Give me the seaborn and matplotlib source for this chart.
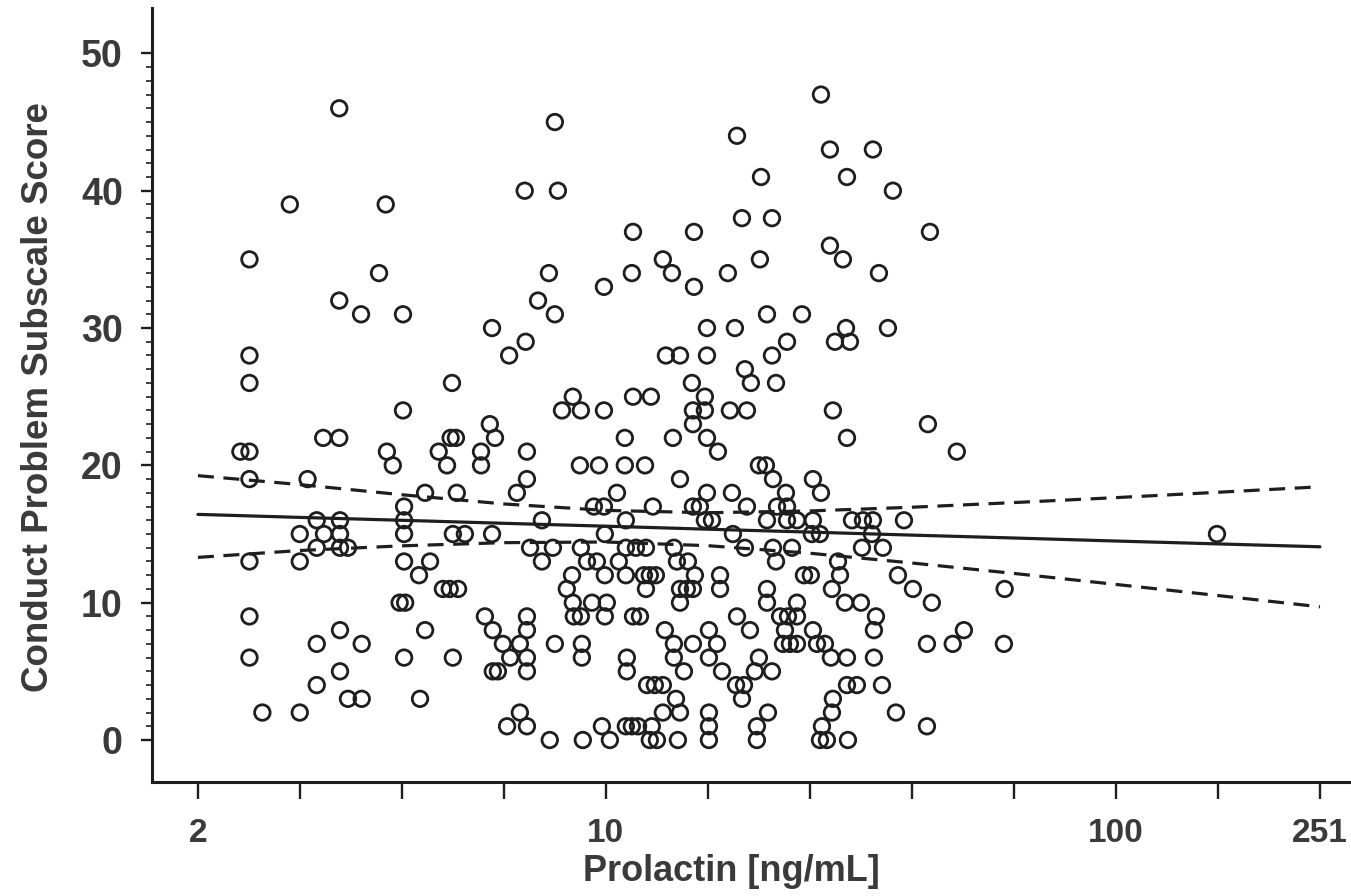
import matplotlib
matplotlib.use("Agg")
import matplotlib.pyplot as plt
from matplotlib.ticker import FixedLocator, NullLocator
import seaborn as sns

# Scatter data: prolactin (ng/mL) and conduct problem subscale score
prolactin = [
    7.76, 9.01, 10.18, 12.19, 12.59, 13.84, 15.92, 19.77, 26.28, 27.12, 29.82,
    6.40, 7.00, 9.82, 10.94, 11.24, 11.56, 12.30, 15.92, 19.77, 26.52, 42.60,
    2.12, 2.51, 6.78, 12.93, 13.97, 15.92, 20.78, 27.74, 37.03,
    3.12, 3.32, 4.32, 13.72, 18.48, 27.86,
    2.71, 12.04, 12.47, 12.93, 17.99, 18.65, 29.69, 31.05, 34.77,
    3.01, 6.00, 6.14, 7.00, 10.99, 14.22, 16.89, 19.59, 21.16,
    2.00, 4.02, 5.01, 6.49, 7.00, 8.97, 10.99, 13.59, 15.92, 19.95, 27.61, 29.69, 33.53,
    2.71, 3.32, 6.28, 6.78, 7.94, 8.97, 13.59, 14.81, 16.51, 22.24, 22.95, 23.69, 25.93, 26.88, 42.60, 47.86, 60.3,
    3.01, 4.42, 6.00, 7.00, 13.05, 15.92, 19.16, 22.44, 25.46, 33.53, 50.33,
    2.00, 5.79, 7.00, 8.65, 8.93, 9.95, 11.30, 11.66, 18.07, 21.95, 22.75, 23.69, 33.84,
    3.94, 4.04, 8.61, 9.39, 10.04, 13.97, 20.69, 23.69, 29.42, 31.62, 43.55,
    4.79, 4.94, 5.13, 8.38, 11.98, 13.97, 14.41, 14.81, 16.74, 20.69, 27.74, 39.99, 60.5,
    4.30, 8.58, 9.95, 10.94, 11.87, 12.19, 12.53, 14.94, 16.74, 24.45, 25.22, 28.77, 37.37,
    2.00, 2.51, 4.02, 4.52, 7.49, 9.18, 9.60, 10.60, 13.78, 14.48, 21.55, 28.51,
    2.71, 3.01, 3.12, 7.10, 7.87, 8.93, 10.94, 11.45, 11.98, 13.59, 18.73, 21.26, 23.16, 31.77, 34.92,
    2.51, 2.80, 3.01, 4.02, 5.01, 5.29, 5.98, 9.95, 17.74, 25.34, 26.28, 33.23, 157.8,
    2.71, 3.01, 4.02, 7.49, 10.94, 15.63, 16.14, 20.69, 22.65, 23.69, 25.46, 30.37, 31.91, 33.38, 38.40,
    4.02, 9.47, 9.91, 12.36, 14.81, 15.28, 18.90, 21.65, 22.65,
    4.42, 5.10, 6.69, 10.51, 15.78, 17.66, 22.54, 26.40,
    2.00, 2.60, 7.00, 13.97, 21.26, 25.46,
    3.82, 4.88, 5.69, 8.89, 9.69, 10.89, 11.93, 19.95, 20.59,
    1.92, 2.00, 3.72, 4.70, 5.69, 7.00, 16.58, 48.75,
    2.79, 3.00, 4.96, 5.08, 6.06, 10.89, 13.53, 15.78, 29.69,
    5.92, 14.81, 42.79,
    4.00, 8.20, 8.93, 9.91, 14.81, 15.63, 17.50, 18.90, 27.86,
    8.61, 11.30, 12.25, 15.63,
    2.00, 4.99, 14.74, 19.24, 21.55,
    18.73,
    2.00, 6.46, 13.11, 13.97, 15.78, 21.16,
    6.96, 22.65, 28.12, 30.09,
    5.98, 15.78, 17.90, 29.56, 35.72,
    3.31, 4.00, 7.94, 20.69, 24.23,
    3.00, 7.36,
    9.91, 14.88,
    3.59, 7.73, 11.24, 13.47, 17.34, 34.30,
    2.00, 12.93, 20.04, 29.15,
    27.49,
    11.30, 14.88, 43.18,
    18.48, 21.16,
    2.40, 3.70,
    6.93, 8.05, 36.53,
    20.14, 29.69,
    27.49, 33.38,
    18.07,
    7.94,
    3.00,
    26.40,
]
score = [
    0, 0, 0, 0, 0, 0, 0, 0, 0, 0, 0,
    1, 1, 1, 1, 1, 1, 1, 1, 1, 1, 1,
    2, 2, 2, 2, 2, 2, 2, 2, 2,
    3, 3, 3, 3, 3, 3,
    4, 4, 4, 4, 4, 4, 4, 4, 4,
    5, 5, 5, 5, 5, 5, 5, 5, 5,
    6, 6, 6, 6, 6, 6, 6, 6, 6, 6, 6, 6, 6,
    7, 7, 7, 7, 7, 7, 7, 7, 7, 7, 7, 7, 7, 7, 7, 7, 7,
    8, 8, 8, 8, 8, 8, 8, 8, 8, 8, 8,
    9, 9, 9, 9, 9, 9, 9, 9, 9, 9, 9, 9, 9,
    10, 10, 10, 10, 10, 10, 10, 10, 10, 10, 10,
    11, 11, 11, 11, 11, 11, 11, 11, 11, 11, 11, 11, 11,
    12, 12, 12, 12, 12, 12, 12, 12, 12, 12, 12, 12, 12,
    13, 13, 13, 13, 13, 13, 13, 13, 13, 13, 13, 13,
    14, 14, 14, 14, 14, 14, 14, 14, 14, 14, 14, 14, 14, 14, 14,
    15, 15, 15, 15, 15, 15, 15, 15, 15, 15, 15, 15, 15,
    16, 16, 16, 16, 16, 16, 16, 16, 16, 16, 16, 16, 16, 16, 16,
    17, 17, 17, 17, 17, 17, 17, 17, 17,
    18, 18, 18, 18, 18, 18, 18, 18,
    19, 19, 19, 19, 19, 19,
    20, 20, 20, 20, 20, 20, 20, 20, 20,
    21, 21, 21, 21, 21, 21, 21, 21,
    22, 22, 22, 22, 22, 22, 22, 22, 22,
    23, 23, 23,
    24, 24, 24, 24, 24, 24, 24, 24, 24,
    25, 25, 25, 25,
    26, 26, 26, 26, 26,
    27,
    28, 28, 28, 28, 28, 28,
    29, 29, 29, 29,
    30, 30, 30, 30, 30,
    31, 31, 31, 31, 31,
    32, 32,
    33, 33,
    34, 34, 34, 34, 34, 34,
    35, 35, 35, 35,
    36,
    37, 37, 37,
    38, 38,
    39, 39,
    40, 40, 40,
    41, 41,
    43, 43,
    44,
    45,
    46,
    47,
]

# Regression line and 95% confidence limits
fit_x = [1.585, 2.512, 3.981, 6.310, 10.0, 15.85, 25.12, 39.81, 63.10, 100.0, 158.5, 251.2]
fit_y = [16.43, 16.21, 16.00, 15.78, 15.57, 15.35, 15.14, 14.92, 14.71, 14.49, 14.28, 14.07]
ci_low = [13.30, 13.80, 14.14, 14.37, 14.42, 14.15, 13.60, 12.89, 12.13, 11.33, 10.52, 9.70]
ci_high = [19.25, 18.60, 17.86, 17.19, 16.72, 16.55, 16.68, 16.95, 17.29, 17.65, 18.04, 18.44]

x_ticks = [1.585, 2.512, 3.981, 6.310, 10.0, 15.85, 25.12, 39.81, 63.10, 100.0, 158.5, 251.2]
x_tick_labels = ["2", "", "", "", "10", "", "", "", "", "100", "", "251"]
y_ticks = [0, 10, 20, 30, 40, 50]

ink = "#1e1e1e"
text_gray = "#3a3a3a"

sns.set_style("ticks")
plt.rcParams["font.family"] = ["Liberation Sans", "DejaVu Sans"]
plt.rcParams["font.weight"] = "bold"

fig = plt.figure(figsize=(13.51, 8.96), dpi=100)
ax = fig.add_axes([0.1125, 0.1272, 0.8875, 0.8638])
ax.set_xscale("log")

sns.scatterplot(x=prolactin, y=score, ax=ax, marker="o", s=125,
                fc="none", ec=ink, linewidth=2.0, zorder=3)
sns.lineplot(x=fit_x, y=fit_y, ax=ax, color=ink, lw=2.3, zorder=2)
sns.lineplot(x=fit_x, y=ci_low, ax=ax, color=ink, lw=2.3,
             linestyle=(0, (5, 3)), zorder=2)
sns.lineplot(x=fit_x, y=ci_high, ax=ax, color=ink, lw=2.3,
             linestyle=(0, (5, 3)), zorder=2)

ax.set_xlim(1.288, 289)
ax.set_ylim(-3.06, 53.3)

ax.set_xticks(x_ticks)
ax.set_xticklabels(x_tick_labels)
ax.xaxis.set_minor_locator(NullLocator())
ax.set_yticks(y_ticks)
ax.yaxis.set_minor_locator(FixedLocator(list(range(0, 51))))

ax.tick_params(axis="x", which="major", length=12, width=1.7, pad=14,
               labelsize=24, colors=ink, labelcolor=text_gray)
ax.tick_params(axis="y", which="major", length=8, width=1.7, pad=13,
               labelsize=27, colors=ink, labelcolor=text_gray)
ax.tick_params(axis="y", which="minor", length=4.5, width=1.2, colors=ink)

sns.despine(ax=ax)
for side in ["left", "bottom"]:
    ax.spines[side].set_linewidth(2.2)
    ax.spines[side].set_color(ink)

ax.set_xlabel("Prolactin [ng/mL]", fontsize=26, fontweight="bold", color=text_gray)
ax.set_ylabel("Conduct Problem Subscale Score", fontsize=26.5, fontweight="bold", color=text_gray)
ax.xaxis.set_label_coords(0.483, -0.093)
ax.yaxis.set_label_coords(-0.08, 0.497)

fig.savefig("out.png", dpi=100, facecolor="white")
plt.close(fig)
